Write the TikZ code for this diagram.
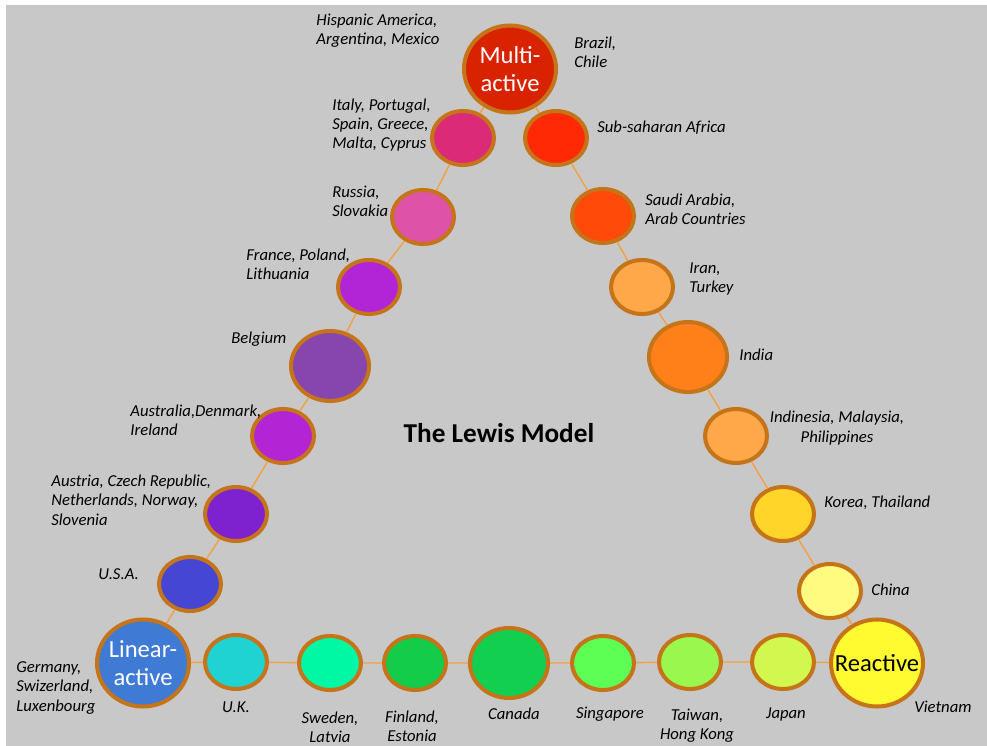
\documentclass[tikz,border=0pt]{standalone}
\usepackage{fontspec}
\setmainfont{Carlito}
\usetikzlibrary{shapes.geometric}

\definecolor{bg}{HTML}{C8C8C8}
\definecolor{rim}{HTML}{C5741A}
\definecolor{link}{HTML}{F5A040}
\definecolor{cMulti}{HTML}{D92200}
\definecolor{cItaly}{HTML}{DB2A78}
\definecolor{cAfrica}{HTML}{FF2A05}
\definecolor{cRussia}{HTML}{DE53A8}
\definecolor{cSaudi}{HTML}{FF4A0A}
\definecolor{cFrance}{HTML}{B125D6}
\definecolor{cIran}{HTML}{FFA84A}
\definecolor{cBelgium}{HTML}{8646AE}
\definecolor{cIndia}{HTML}{FF7F18}
\definecolor{cAustralia}{HTML}{B224D4}
\definecolor{cIndonesia}{HTML}{FFA84A}
\definecolor{cAustria}{HTML}{7E22D0}
\definecolor{cKorea}{HTML}{FFD52A}
\definecolor{cUSA}{HTML}{4646D4}
\definecolor{cChina}{HTML}{FFFA80}
\definecolor{cLinear}{HTML}{3F7BD4}
\definecolor{cUK}{HTML}{1FD3D3}
\definecolor{cSweden}{HTML}{00F7A4}
\definecolor{cFinland}{HTML}{12CC4A}
\definecolor{cCanada}{HTML}{12CF50}
\definecolor{cSingapore}{HTML}{5EFF55}
\definecolor{cTaiwan}{HTML}{9AF74E}
\definecolor{cJapan}{HTML}{D2F74E}
\definecolor{cReactive}{HTML}{FFFB30}

\tikzset{
    nation/.style={ellipse, draw=rim, line width=2.3pt, fill=#1,
        minimum width=1.24cm, minimum height=1.08cm, inner sep=0pt},
    midnation/.style={nation=#1, minimum width=1.56cm, minimum height=1.40cm},
    pole/.style={nation=#1, minimum width=1.84cm, minimum height=1.74cm,
        inner xsep=-7pt, font=\fontsize{14}{16}\selectfont, align=center},
    lab/.style={font=\fontsize{9.5}{11}\selectfont\itshape, inner sep=0pt},
    link/.style={draw=link, line width=0.8pt}
}

\begin{document}
\begin{tikzpicture}[x=0.02cm, y=-0.02cm]
    \useasboundingbox (0,0) rectangle (987,746);
    \fill[white] (0,0) rectangle (987,746);
    \fill[bg] (6,5) rectangle (987,746);

    \node[pole=cMulti, text=white] (multi) at (510,69) {Multi-\\active};
    \node[nation=cItaly] (italy) at (463,138) {};
    \node[nation=cRussia] (russia) at (423,217) {};
    \node[nation=cFrance] (france) at (369,287) {};
    \node[midnation=cBelgium] (belgium) at (330,366) {};
    \node[nation=cAustralia] (australia) at (283,436) {};
    \node[nation=cAustria] (austria) at (236,514) {};
    \node[nation=cUSA] (usa) at (190,584) {};
    \node[pole=cLinear, text=white] (linear) at (143,663) {Linear-\\active};

    \node[nation=cAfrica] (africa) at (556,138) {};
    \node[nation=cSaudi] (saudi) at (603,216) {};
    \node[nation=cIran] (iran) at (642,287) {};
    \node[midnation=cIndia] (india) at (688,357) {};
    \node[nation=cIndonesia] (indonesia) at (736,436) {};
    \node[nation=cKorea] (korea) at (783,514) {};
    \node[nation=cChina] (china) at (830,591) {};
    \node[pole=cReactive] (reactive) at (877,663) {Reactive};

    \node[nation=cUK] (uk) at (236,662) {};
    \node[nation=cSweden] (sweden) at (330,663) {};
    \node[nation=cFinland] (finland) at (415,663) {};
    \node[midnation=cCanada] (canada) at (509,663) {};
    \node[nation=cSingapore] (singapore) at (603,663) {};
    \node[nation=cTaiwan] (taiwan) at (690,662) {};
    \node[nation=cJapan] (japan) at (783,662) {};

    \draw[link] (multi) -- (italy) -- (russia) -- (france) -- (belgium)
        -- (australia) -- (austria) -- (usa) -- (linear);
    \draw[link] (multi) -- (africa) -- (saudi) -- (iran) -- (india)
        -- (indonesia) -- (korea) -- (china) -- (reactive);
    \draw[link] (linear) -- (uk) -- (sweden) -- (finland) -- (canada)
        -- (singapore) -- (taiwan) -- (japan) -- (reactive);

    \node[lab, anchor=west, align=left] (lHispanic) at (316,31) {Hispanic America,\\Argentina, Mexico};
    \node[lab, anchor=west, align=left] (lBrazil) at (574,52) {Brazil,\\Chile};
    \node[lab, anchor=west, align=left] (lItaly) at (332,125) {Italy, Portugal,\\Spain, Greece,\\Malta, Cyprus};
    \node[lab, anchor=west] (lAfrica) at (597,128) {Sub-saharan Africa};
    \node[lab, anchor=west, align=left] (lRussia) at (332,201) {Russia,\\Slovakia};
    \node[lab, anchor=west, align=left] (lSaudi) at (645,209) {Saudi Arabia,\\Arab Countries};
    \node[lab, anchor=west, align=left] (lFrance) at (246,264) {France, Poland,\\Lithuania};
    \node[lab, anchor=west, align=left] (lIran) at (689,279) {Iran,\\Turkey};
    \node[lab, anchor=west] (lBelgium) at (231,339) {Belgium};
    \node[lab, anchor=west] (lIndia) at (739,355) {India};
    \node[lab, anchor=west, align=left] (lAustralia) at (130,420) {Australia,Denmark,\\Ireland};
    \node[lab, align=center] (lIndonesia) at (837,428) {Indinesia, Malaysia,\\Philippines};
    \node[lab, anchor=west] (lKorea) at (824,503) {Korea, Thailand};
    \node[lab, anchor=west, align=left] (lAustria) at (51,500) {Austria, Czech Republic,\\Netherlands, Norway,\\Slovenia};
    \node[lab, anchor=west] (lChina) at (871,590) {China};
    \node[lab, anchor=west] (lUSA) at (98,574) {U.S.A.};
    \node[lab, anchor=west, align=left] (lGermany) at (16,688) {Germany,\\Swizerland,\\Luxenbourg};
    \node[lab] (lUK) at (236,707) {U.K.};
    \node[lab, align=center] (lSweden) at (330,727) {Sweden,\\Latvia};
    \node[lab, align=center] (lFinland) at (412,726) {Finland,\\Estonia};
    \node[lab] (lCanada) at (514,714) {Canada};
    \node[lab] (lSingapore) at (610,714) {Singapore};
    \node[lab, align=center] (lTaiwan) at (697,726) {Taiwan,\\Hong Kong};
    \node[lab] (lJapan) at (786,714) {Japan};
    \node[lab] (lVietnam) at (943,707) {Vietnam};

    \node[font=\fontsize{15.5}{18}\selectfont\bfseries] (title) at (499,433) {The Lewis Model};
\end{tikzpicture}
\end{document}
